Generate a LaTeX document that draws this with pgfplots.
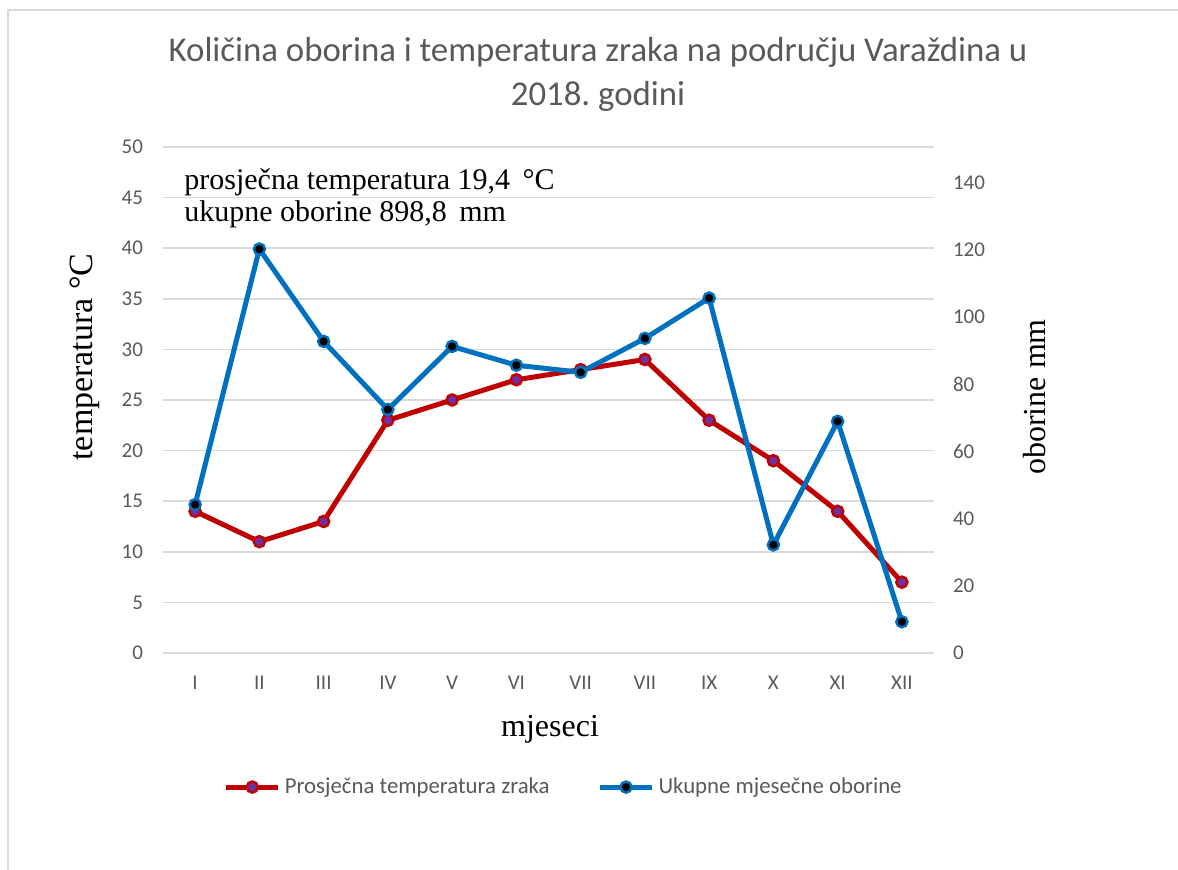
\documentclass[border=0pt]{standalone}
\usepackage{pgfplots}
\pgfplotsset{compat=1.18}
\usepackage{fontspec}
\setmainfont{Carlito}
\newfontfamily\tnr{Liberation Serif}
\definecolor{tred}{HTML}{C00000}
\definecolor{tpurple}{HTML}{7030A0}
\definecolor{oblue}{HTML}{0070C0}
\definecolor{gridc}{HTML}{D9D9D9}
\definecolor{txt}{HTML}{595959}
\pgfplotstableread{
x temp prec
0 14 44.2
1 11 120.3
2 13 92.8
3 23 72.5
4 25 91.3
5 27 85.7
6 28 83.6
7 29 93.7
8 23 105.7
9 19 32.2
10 14 69.0
11 7 9.3
}\data
\begin{document}
\begin{tikzpicture}
\path[use as bounding box] (0pt,0pt) rectangle (589pt,435pt);
\draw[gridc,line width=1pt] (4pt,0pt) -- (4pt,430pt) -- (589pt,430pt);
% title
\node[txt,font=\fontsize{17.4}{20}\selectfont] at (299pt,409pt) {Količina oborina i temperatura zraka na području Varaždina u};
\node[txt,font=\fontsize{17.4}{20}\selectfont] at (299pt,387pt) {2018.\ godini};
\pgfplotsset{
  common/.style={
    at={(81.5pt,108.5pt)}, anchor=south west,
    scale only axis, width=385.5pt, height=253pt,
    xmin=-0.5, xmax=11.5, ymin=0,
    axis line style={draw=none},
    major tick length=0pt,
    /pgf/number format/assume math mode=true,
    tick label style={txt,font=\fontsize{10.5}{12}\selectfont},
  }
}
\begin{axis}[common,
  ymax=50, ytick={0,5,...,50},
  xtick={0,...,11},
  xticklabels={I,II,III,IV,V,VI,VII,VII,IX,X,XI,XII},
  xticklabel style={yshift=-8pt},
  yticklabel style={xshift=-6.5pt},
  ymajorgrids, grid style={gridc,line width=0.8pt},
]
\addplot[tred,line width=2.5pt,mark=*,mark size=2.8pt,
  mark options={fill=tpurple,draw=tred,line width=1.2pt}] table[x=x,y=temp]{\data};
\end{axis}
\begin{axis}[common,
  ymax=150.7, ytick={0,20,...,140},
  axis y line*=right, axis x line=none,
  yticklabel style={xshift=6pt},
  legend style={at={(0.521,-0.265)},anchor=center,draw=none,
    legend columns=2,font=\fontsize{11.4}{13}\selectfont,text=txt,
    /tikz/every even column/.append style={column sep=22pt}},
  legend cell align=left,
  legend image code/.code={\draw[#1,mark=none] (0pt,0pt) -- (26pt,0pt);
     \draw[#1] plot coordinates {(13pt,0pt)};},
]
\addlegendimage{tred,line width=2.5pt,mark=*,mark size=2.8pt,
  mark options={fill=tpurple,draw=tred,line width=1.2pt}}
\addlegendentry{Prosječna temperatura zraka}
\addplot[oblue,line width=2.5pt,mark=*,mark size=2.8pt,
  mark options={fill=black,draw=oblue,line width=1.2pt}] table[x=x,y=prec]{\data};
\addlegendentry{Ukupne mjesečne oborine}
\end{axis}
% annotation
\node[anchor=base west,font=\tnr\fontsize{15}{18}\selectfont,inner sep=0] at (92pt,340pt) {prosječna temperatura 19,4 \,°C};
\node[anchor=base west,font=\tnr\fontsize{15}{18}\selectfont,inner sep=0] at (92pt,324pt) {ukupne oborine 898,8 \,mm};
% axis titles
\node[rotate=90,font=\tnr\fontsize{17}{19}\selectfont] at (42.5pt,256.5pt) {temperatura °C};
\node[rotate=90,font=\tnr\fontsize{16}{19}\selectfont] at (517.5pt,236.5pt) {oborine mm};
\node[font=\tnr\fontsize{16}{19}\selectfont] at (275pt,70.5pt) {mjeseci};
\end{tikzpicture}
\end{document}
